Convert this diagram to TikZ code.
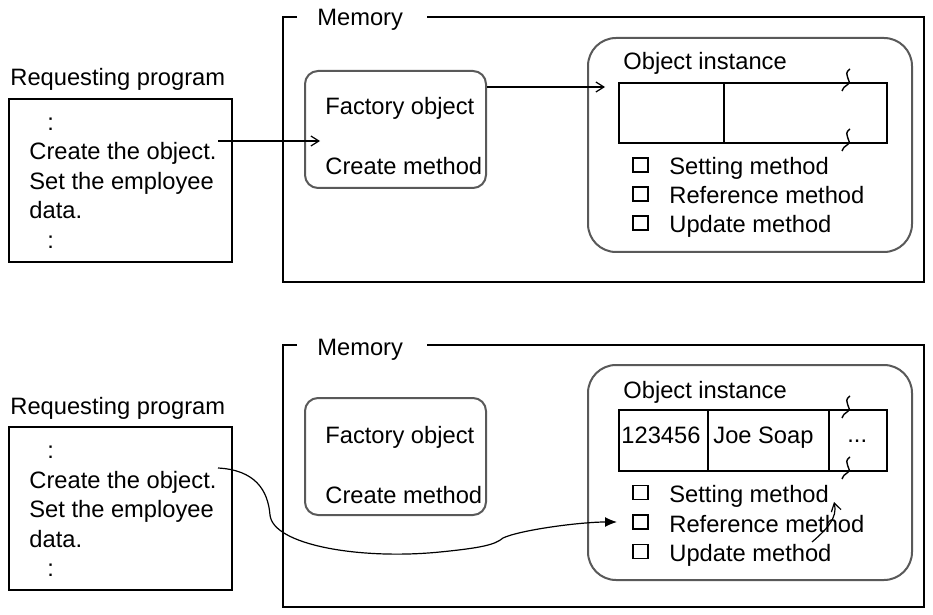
\documentclass[tikz,border=0pt]{standalone}
\usepackage{fontspec}
\setmainfont{Liberation Sans}
\usetikzlibrary{arrows.meta}

\begin{document}
\begin{tikzpicture}[x=0.5pt,y=-0.5pt,
  every node/.style={inner sep=0pt, font=\fontsize{11.85}{14}\selectfont},
  lbl/.style={anchor=base west},
  memframe/.style={line width=0.8pt},
  progbox/.style={draw, line width=0.8pt},
  rbox/.style={draw=black!65, line width=1pt, rounded corners=6.5pt},
  objbox/.style={draw=black!65, line width=1pt, rounded corners=14pt},
  cell/.style={draw, line width=0.75pt},
  chk/.style={draw, line width=0.7pt, minimum width=7.5pt, minimum height=7pt},
  arr/.style={-{Straight Barb[length=4pt,width=5pt]}, line width=0.6pt},
  brk/.pic={\draw[line width=0.7pt] (3,-14) .. controls (-6,-8) and (7,-2) .. (0,2) .. controls (-3,4) .. (-5,8);}
]
\useasboundingbox (0,0) rectangle (933,615);

% ---- before: the object is created
\node[lbl] (reqA) at (10,86) {Requesting program};
\draw[progbox] (9,99) rectangle (232,262);
\foreach \t [count=\i] in {{\hspace{9pt}:}, Create the object., Set the employee, data., {\hspace{9pt}:}}
  \node[lbl] (pA\i) at (29,101+29.5*\i) {\t};

\draw[memframe] (297,17) -| (283,282) -| (924,17) -- (427,17);
\node[lbl] (memA) at (317,26) {Memory};

\node[rbox, minimum width=90.5pt, minimum height=58.5pt] (factA) at (395.5,129.5) {};
\node[lbl] (fA1) at (325,115) {Factory object};
\node[lbl] (fA2) at (325,175) {Create method};

\node[objbox, minimum width=162pt, minimum height=107pt] (objA) at (750,145) {};
\node[lbl] (oA) at (623,70) {Object instance};
\draw[cell] (619,83) rectangle (887,143);
\draw[cell] (724,83) -- (724,143);
\pic at (847,83) {brk};
\pic at (847,143) {brk};
\foreach \t [count=\i] in {Setting method, Reference method, Update method} {
  \node[chk] (cA\i) at (640.5,136+29*\i) {};
  \node[lbl] (mA\i) at (669,146+29*\i) {\t};
}

\coordinate (callA) at (218,141);
\coordinate (inFA) at (320,141);
\coordinate (inOA) at (605,87);
\draw[arr] (callA) -- (inFA);
\draw[arr] (factA.east |- inOA) -- (inOA);

% ---- after: the method is called
\node[lbl] (reqB) at (10,414) {Requesting program};
\draw[progbox] (9,427) rectangle (232,590);
\foreach \t [count=\i] in {{\hspace{9pt}:}, Create the object., Set the employee, data., {\hspace{9pt}:}}
  \node[lbl] (pB\i) at (29,429+29.5*\i) {\t};

\draw[memframe] (297,345) -| (283,607) -| (924,345) -- (427,345);
\node[lbl] (memB) at (317,355) {Memory};

\node[rbox, minimum width=90.5pt, minimum height=58.5pt] (factB) at (395.5,456.5) {};
\node[lbl] (fB1) at (325,443) {Factory object};
\node[lbl] (fB2) at (325,503) {Create method};

\node[objbox, minimum width=162pt, minimum height=107.5pt] (objB) at (750,472.5) {};
\node[lbl] (oB) at (623,398) {Object instance};
\draw[cell] (619,410) rectangle (887,471);
\draw[cell] (708,410) -- (708,471);
\draw[cell] (829,410) -- (829,471);
\node[lbl] (vB1) at (621,443) {123456};
\node[lbl] (vB2) at (713,443) {Joe Soap};
\node[lbl] (vB3) at (847,442) {...};
\pic at (847,410) {brk};
\pic at (847,471) {brk};
\foreach \t [count=\i] in {Setting method, Reference method, Update method} {
  \node[chk] (cB\i) at (640.5,463+29.5*\i) {};
  \node[lbl] (mB\i) at (669,473+29.5*\i) {\t};
}

\coordinate (callB) at (218,468);
\coordinate (refB) at (617,522);
\draw[line width=0.6pt, -{Latex[length=6pt,width=5pt]}] (callB)
  .. controls (255,470) and (268,490) .. (270,515)
  .. controls (273,545) and (360,560) .. (440,552)
  .. controls (480,548) and (495,545) .. (503,538)
  .. controls (520,530) and (580,522) .. (refB);

\coordinate (fromB) at (812,542);
\coordinate (toB) at (834,502);
\draw[arr] (fromB) .. controls (826,530) and (838,518) .. (toB);
\end{tikzpicture}
\end{document}
